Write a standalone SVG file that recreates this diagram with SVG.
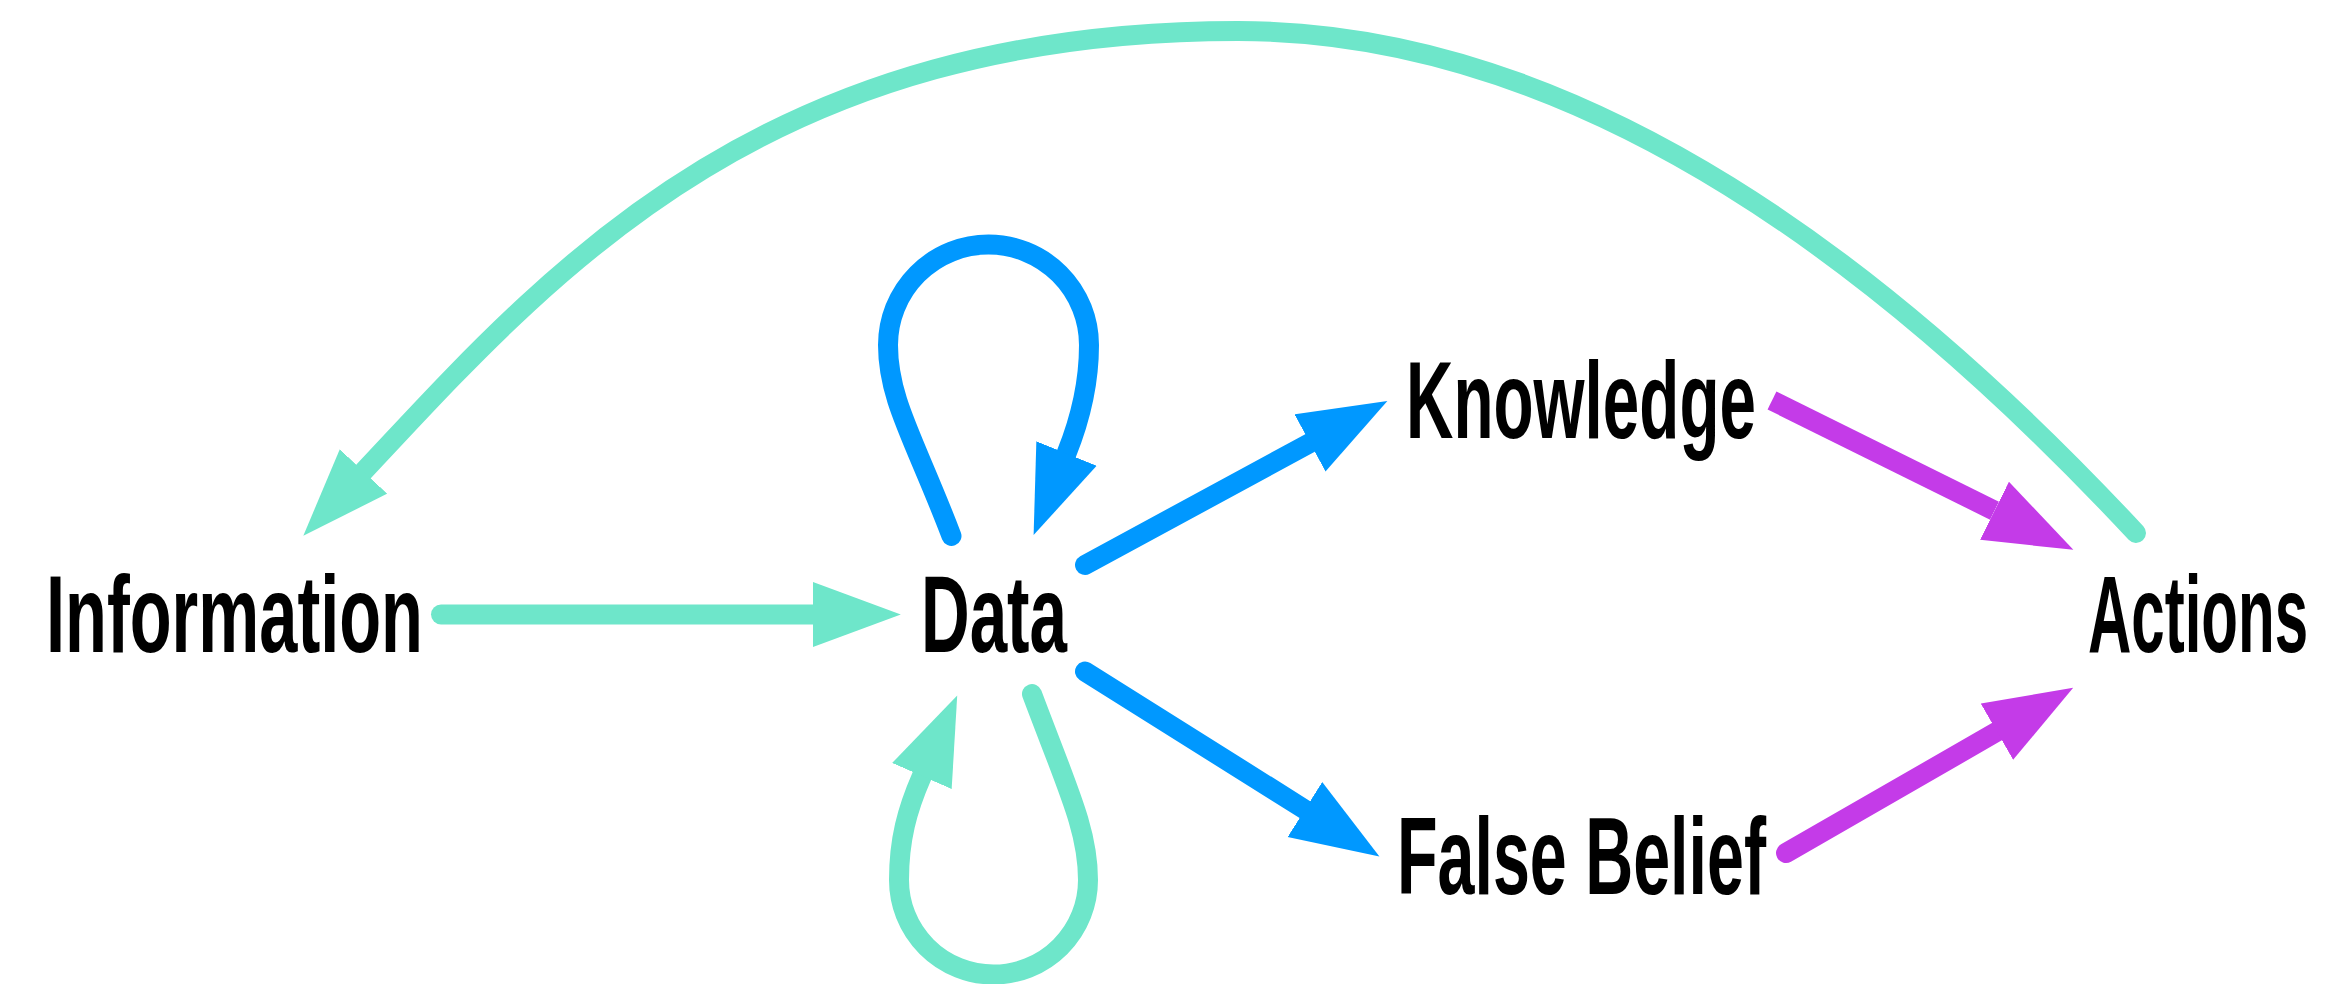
<svg xmlns="http://www.w3.org/2000/svg" width="2326" height="984" viewBox="0 0 2326 984">
  <style>
    .lbl { font-family: "Liberation Sans", Arial, sans-serif; font-weight: bold; font-size: 109px; fill: #000; }
    .edge { fill: none; stroke-width: 20; stroke-linecap: round; }
    .teal { stroke: #6ee6ca; }
    .blue { stroke: #0098ff; }
    .purple { stroke: #c43be8; }
  </style>
  <defs>
    <marker id="ah-teal" markerUnits="userSpaceOnUse" markerWidth="90" markerHeight="66" viewBox="0 0 90 66" refX="0" refY="33" orient="auto">
      <path d="M0,0.5 L88,33 L0,65.5 z" fill="#6ee6ca"/>
    </marker>
    <marker id="ah-blue" markerUnits="userSpaceOnUse" markerWidth="90" markerHeight="66" viewBox="0 0 90 66" refX="0" refY="33" orient="auto">
      <path d="M0,0.5 L88,33 L0,65.5 z" fill="#0098ff"/>
    </marker>
    <marker id="ah-purple" markerUnits="userSpaceOnUse" markerWidth="90" markerHeight="66" viewBox="0 0 90 66" refX="0" refY="33" orient="auto">
      <path d="M0,0.5 L88,33 L0,65.5 z" fill="#c43be8"/>
    </marker>
  </defs>
  <rect width="2326" height="984" fill="#fff"/>

  <g id="connectors">
    <!-- Actions -> Information (big arc) -->
    <path class="edge teal" d="M2136,533 C1898,277.5 1588,31 1238,31 C758,31 548.2,274.4 363.5,471.5" marker-end="url(#ah-teal)"/>
    <!-- Information -> Data -->
    <path class="edge teal" d="M441,614.5 L812.8,614.5" marker-end="url(#ah-teal)"/>
    <!-- Data self loop (blue, top) -->
    <path class="edge blue" d="M951.5,536 C915,440 888,400 888,345 A100.5,100.5 0 0 1 1089,345 C1089,385 1080,420 1066.5,453.5" marker-end="url(#ah-blue)"/>
    <!-- Data self loop (teal, bottom) -->
    <path class="edge teal" d="M1032,694 C1068,790 1088,830 1088,880 A94.5,94.5 0 0 1 899,880 C899,840 907,810 921.9,776" marker-end="url(#ah-teal)"/>
    <!-- Data -> Knowledge -->
    <path class="edge blue" d="M1085,565 L1310,443" marker-end="url(#ah-blue)"/>
    <!-- Data -> False Belief -->
    <path class="edge blue" d="M1085,671.5 L1304.9,809.6" marker-end="url(#ah-blue)"/>
    <!-- Knowledge -> Actions -->
    <path class="edge purple" style="stroke-linecap:butt" d="M1772,400.5 L1994.5,510.75" marker-end="url(#ah-purple)"/>
    <!-- False Belief -> Actions -->
    <path class="edge purple" d="M1786,853 L1996.9,731.7" marker-end="url(#ah-purple)"/>
  </g>

  <g id="node-information"><text class="lbl" x="46" y="651.5" textLength="377" lengthAdjust="spacingAndGlyphs">Information</text></g>
  <g id="node-data"><text class="lbl" x="921" y="651.5" textLength="146" lengthAdjust="spacingAndGlyphs">Data</text></g>
  <g id="node-knowledge"><text class="lbl" x="1406" y="438" textLength="350" lengthAdjust="spacingAndGlyphs">Knowledge</text></g>
  <g id="node-falsebelief"><text class="lbl" x="1397" y="894" textLength="369" lengthAdjust="spacingAndGlyphs">False Belief</text></g>
  <g id="node-actions"><text class="lbl" x="2088" y="651.5" textLength="220" lengthAdjust="spacingAndGlyphs">Actions</text></g>
</svg>
